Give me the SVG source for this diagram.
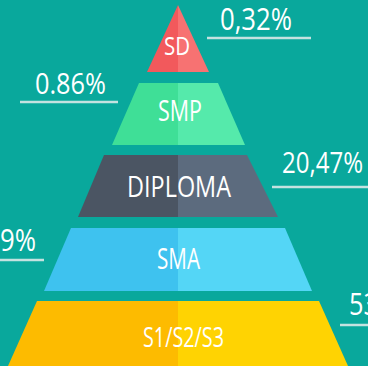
<svg xmlns="http://www.w3.org/2000/svg" width="368" height="366" viewBox="0 0 368 366">
<style>
.lbl{font-family:"Open Sans","Liberation Sans",sans-serif;fill:#FFFFFF;text-anchor:middle}
.pct{font-family:"Open Sans","Liberation Sans",sans-serif;fill:#FFFFFF}
.ul{stroke:#C4E2E0;stroke-width:2.5}
</style>
<rect width="368" height="366" fill="#09A89C"/>
<g id="sd">
<polygon points="178,5 147,72 178,72" fill="#F2595C"/>
<polygon points="178,5 178,72 209,72" fill="#F77272"/>
<text class="lbl" x="177" y="55" font-size="25" textLength="26" lengthAdjust="spacingAndGlyphs">SD</text>
</g>
<g id="smp">
<polygon points="139,83 178,83 178,145 112,145" fill="#3FDF97"/>
<polygon points="178,83 218,83 245,145 178,145" fill="#55EAAB"/>
<text class="lbl" x="180" y="121" font-size="29" textLength="44" lengthAdjust="spacingAndGlyphs">SMP</text>
</g>
<g id="diploma">
<polygon points="104,155 178,155 178,217 78,217" fill="#4B5563"/>
<polygon points="178,155 247,155 278,217 178,217" fill="#5C6B7E"/>
<text class="lbl" x="179" y="197" font-size="29" textLength="104" lengthAdjust="spacingAndGlyphs">DIPLOMA</text>
</g>
<g id="sma">
<polygon points="71,228 178,228 178,291 44,291" fill="#3EC2EF"/>
<polygon points="178,228 285,228 312,291 178,291" fill="#54D6F6"/>
<text class="lbl" x="178.5" y="269" font-size="29" textLength="43" lengthAdjust="spacingAndGlyphs">SMA</text>
</g>
<g id="s123">
<polygon points="37,301 178,301 178,366 8,366" fill="#FDBB00"/>
<polygon points="178,301 319,301 348,366 178,366" fill="#FFD302"/>
<text class="lbl" x="183.5" y="347" font-size="27" textLength="81" lengthAdjust="spacingAndGlyphs">S1/S2/S3</text>
</g>
<g id="connectors">
<line class="ul" x1="207" y1="38" x2="311" y2="38"/>
<line class="ul" x1="20" y1="102" x2="118" y2="102"/>
<line class="ul" x1="272" y1="187" x2="368" y2="187"/>
<line class="ul" x1="0" y1="260" x2="44" y2="260"/>
<line class="ul" x1="340" y1="325" x2="368" y2="325"/>
</g>
<g id="percentages">
<text class="pct" x="220" y="30" font-size="31" textLength="72" lengthAdjust="spacingAndGlyphs">0,32%</text>
<text class="pct" x="35" y="94" font-size="30" textLength="71" lengthAdjust="spacingAndGlyphs">0.86%</text>
<text class="pct" x="282" y="173" font-size="30" textLength="81" lengthAdjust="spacingAndGlyphs">20,47%</text>
<text class="pct" x="0" y="251" font-size="31" textLength="36" lengthAdjust="spacingAndGlyphs">9%</text>
<text class="pct" x="349" y="315" font-size="31" textLength="29" lengthAdjust="spacingAndGlyphs">53</text>
</g>
</svg>
